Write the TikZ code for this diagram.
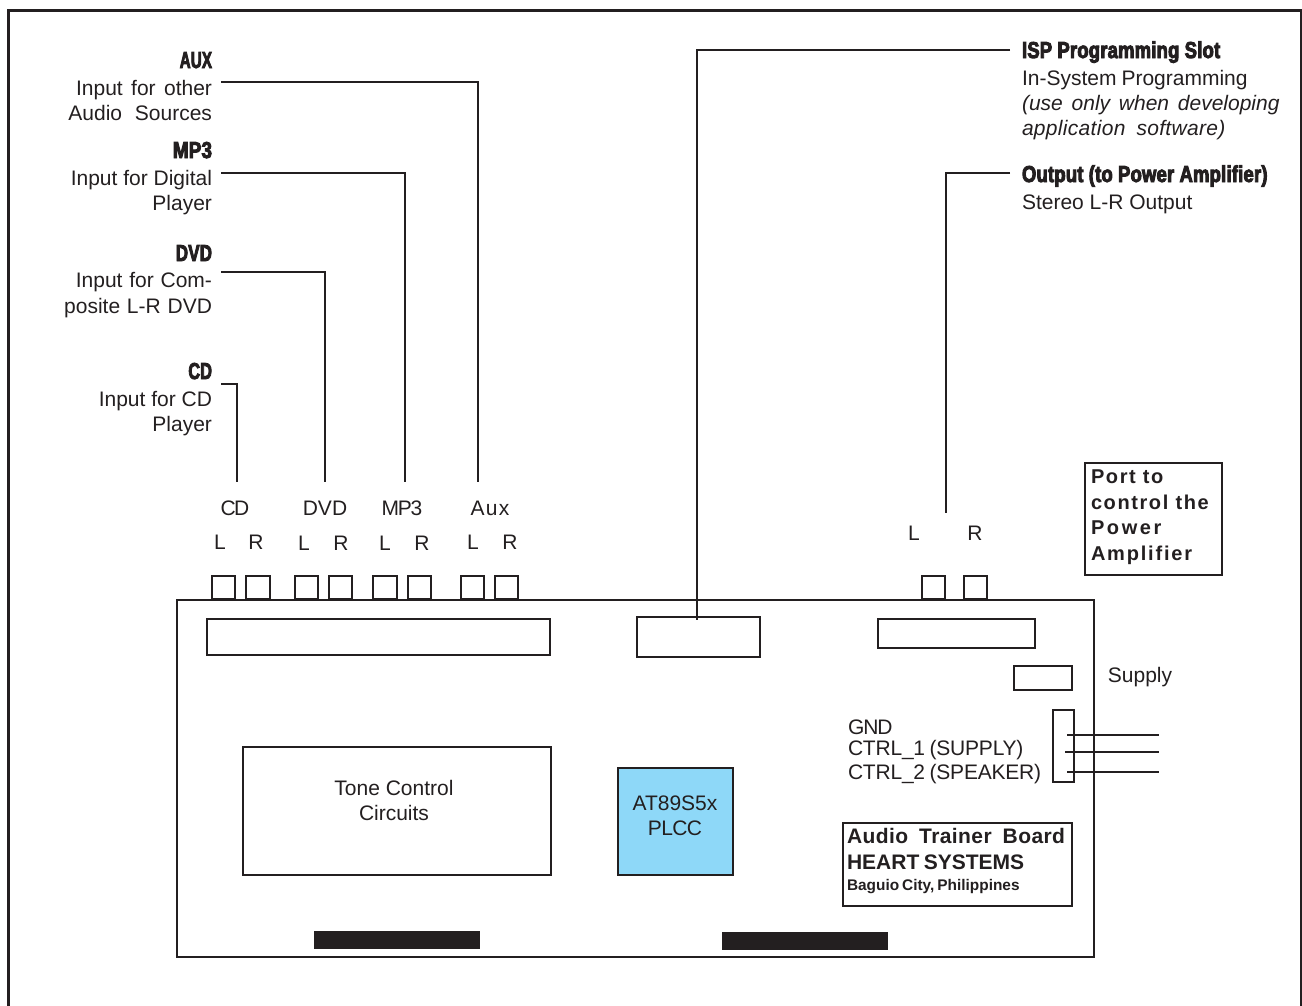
\documentclass[tikz,border=0pt]{standalone}
\usepackage{fontspec}
\setmainfont{Liberation Sans}
\newfontfamily\hfont[UprightFont={* Bold},FakeStretch=0.8,FakeBold=4,LetterSpace=1]{Liberation Sans}
\definecolor{ink}{HTML}{231F20}
\definecolor{chip}{HTML}{8ED8F8}
\newcommand{\hd}[2][1]{\scalebox{#1}[1]{\hfont\fontsize{23}{26}\selectfont #2}}
\newcommand{\ws}[1]{\spaceskip=#1pt\relax}
\tikzset{
  x=1pt,y=-1pt,
  every node/.style={text=ink,inner sep=0pt,outer sep=0pt},
  box/.style={draw=ink,line width=2.8pt,fill=white},
  thinbox/.style={draw=ink,line width=1.1pt,fill=white},
  wire/.style={draw=ink,line width=2.7pt},
  txt/.style={font=\fontsize{21}{25}\selectfont},
  lab/.style={txt,anchor=base},
  notetxt/.style={anchor=base west,font=\fontsize{20}{25}\selectfont\bfseries}
}
\begin{document}
\begin{tikzpicture}
\useasboundingbox (0,0) rectangle (1302,1005);
\draw[draw=ink,line width=3pt] (8.5,1006) -- (8.5,10) -- (1301,10) -- (1301,1006);
% board
\node[box,line width=2.4pt,minimum width=917pt,minimum height=357pt,anchor=north west] (board) at (177,600) {};
% jacks
\foreach \n/\a/\b in {j1/212/235,j2/246/270,j3/295/318,j4/329/352,j5/373/397,j6/408/431,j7/461/484,j8/495/518,j9/922/945,j10/964/987}{
  \node[box,anchor=south west,minimum width=\b-\a,minimum height=23pt] (\n) at (\a,599) {};
}
\node[box,anchor=north west,minimum width=343pt,minimum height=36pt] (conA) at (207,619) {};
\node[box,anchor=north west,minimum width=123pt,minimum height=40pt] (conB) at (637,617) {};
\node[box,anchor=north west,minimum width=157pt,minimum height=29pt] (conC) at (878,619) {};
\node[box,anchor=north west,minimum width=58pt,minimum height=24pt] (supply) at (1014,666) {};
\node[box,anchor=north west,minimum width=21pt,minimum height=72pt] (port) at (1053,710) {};
\node[box,anchor=north west,minimum width=308pt,minimum height=128pt] (tone) at (243,747) {};
\node[txt,align=center] (tonet) at (394,800) {Tone Control\\Circuits};
\node[box,fill=chip,anchor=north west,minimum width=115pt,minimum height=107pt] (mcu) at (618,768) {};
\node[txt,align=center] (mcut) at (675,816) {AT89S5x\\{\addfontfeature{LetterSpace=-3}PLCC}};
\node[fill=ink,anchor=north west,minimum width=166pt,minimum height=18pt] (bar1) at (314,931) {};
\node[fill=ink,anchor=north west,minimum width=166pt,minimum height=18pt] (bar2) at (722,932) {};
% info box
\node[thinbox,anchor=north west,minimum width=229pt,minimum height=83pt] (info) at (843,823) {};
\node[anchor=base west,font=\fontsize{21}{25}\selectfont\bfseries\addfontfeature{LetterSpace=2}\ws{11}] (i1) at (847,843) {Audio Trainer Board};
\node[anchor=base west,font=\fontsize{21}{25}\selectfont\bfseries\ws{4.5}] (i2) at (847,869) {HEART SYSTEMS};
\node[anchor=base west,font=\fontsize{15.4}{18}\selectfont\bfseries\ws{3}] (i3) at (847,890) {Baguio City, Philippines};
% port note
\node[box,anchor=north west,minimum width=137pt,minimum height=112pt] (note) at (1085,463) {};
\node[notetxt,font=\fontsize{20}{25}\selectfont\bfseries\addfontfeature{LetterSpace=8}] (n1) at (1091,483) {Port to};
\node[notetxt,font=\fontsize{20}{25}\selectfont\bfseries\addfontfeature{LetterSpace=8}] (n2) at (1091,509) {control the};
\node[notetxt,font=\fontsize{20}{25}\selectfont\bfseries\addfontfeature{LetterSpace=13}] (n3) at (1091,534) {Power};
\node[notetxt,font=\fontsize{20}{25}\selectfont\bfseries\addfontfeature{LetterSpace=9}] (n4) at (1091,560) {Amplifier};
% jack labels
\node[lab] (cd) at (235,515) {\addfontfeature{LetterSpace=-8}CD};
\node[lab] (dvd) at (325,515) {DVD};
\node[lab] (mp3) at (402,515) {\addfontfeature{LetterSpace=-6}MP3};
\node[lab] (aux) at (490,515) {\addfontfeature{LetterSpace=6}Aux};
\foreach \n/\x/\y/\s in {l1/220/549/L,r1/256/549/R,l2/304/550/L,r2/341/550/R,l3/385/550/L,r3/422/550/R,l4/473/549/L,r4/510/549/R,l5/914/540/L,r5/975/540/R}{
  \node[lab] (\n) at (\x,\y) {\s};
}
% left descriptions
\node[anchor=base east] (auxh) at (212,68) {\hd[.82]{AUX}};
\node[txt,anchor=base east] (aux1) at (212,95) {\ws{8.4}Input for other};
\node[txt,anchor=base east] (aux2) at (212,120) {\ws{12.8}Audio Sources};
\node[anchor=base east] (mp3h) at (212,158) {\hd[1.02]{MP3}};
\node[txt,anchor=base east] (mp31) at (212,185) {Input for Digital};
\node[txt,anchor=base east] (mp32) at (212,210) {Player};
\node[anchor=base east] (dvdh) at (212,261) {\hd[.92]{DVD}};
\node[txt,anchor=base east] (dvd1) at (212,287) {\ws{6.8}Input for Com-};
\node[txt,anchor=base east] (dvd2) at (212,313) {\ws{6.8}posite L-R DVD};
\node[anchor=base east] (cdh) at (212,379) {\hd[.88]{CD}};
\node[txt,anchor=base east] (cd1) at (212,406) {Input for CD};
\node[txt,anchor=base east] (cd2) at (212,431) {Player};
% right descriptions
\node[anchor=base west] (isph) at (1022,58) {\hd{ISP Programming Slot}};
\node[txt,anchor=base west] (isp1) at (1022,85) {\ws{5}In-System Programming};
\node[anchor=base west,font=\fontsize{21}{25}\selectfont\itshape\ws{8.8}] (isp2) at (1022,110) {(use only when developing};
\node[anchor=base west,font=\fontsize{21}{25}\selectfont\itshape\addfontfeature{LetterSpace=1.5}\ws{11}] (isp3) at (1022,135) {application software)};
\node[anchor=base west] (outh) at (1022,182) {\hd{Output (to Power Amplifier)}};
\node[txt,anchor=base west] (out1) at (1022,209) {Stereo L-R Output};
% port labels
\node[lab] (sup) at (1140,682) {Supply};
\node[txt,anchor=base west] (gnd) at (848,734) {\addfontfeature{LetterSpace=-5}GND};
\node[txt,anchor=base west] (c1) at (848,755) {\addfontfeature{LetterSpace=-1}\ws{4.5}CTRL\_1 (SUPPLY)};
\node[txt,anchor=base west] (c2) at (848,779) {\addfontfeature{LetterSpace=-1}\ws{4.5}CTRL\_2 (SPEAKER)};
% connectors
\coordinate (a1) at (221,82); \coordinate (a2) at (478,82); \coordinate (a3) at (478,482);
\draw[wire] (a1) -- (a2) -- (a3);
\coordinate (b1) at (221,173); \coordinate (b2) at (405,173); \coordinate (b3) at (405,482);
\draw[wire] (b1) -- (b2) -- (b3);
\coordinate (c1a) at (221,272); \coordinate (c2a) at (325,272); \coordinate (c3a) at (325,482);
\draw[wire] (c1a) -- (c2a) -- (c3a);
\coordinate (d1) at (221,384); \coordinate (d2) at (237,384); \coordinate (d3) at (237,482);
\draw[wire] (d1) -- (d2) -- (d3);
\coordinate (e1) at (1010,50); \coordinate (e2) at (697,50); \coordinate (e3) at (697,620);
\draw[wire] (e1) -- (e2) -- (e3);
\coordinate (f1) at (1010,173); \coordinate (f2) at (946,173); \coordinate (f3) at (946,513);
\draw[wire] (f1) -- (f2) -- (f3);
\coordinate (g1) at (1067,735); \coordinate (g2) at (1159,735);
\coordinate (h1) at (1065,752); \coordinate (h2) at (1159,752);
\coordinate (k1) at (1067,772); \coordinate (k2) at (1159,772);
\draw[wire,line width=2.2pt] (g1) -- (g2);
\draw[wire,line width=2.2pt] (h1) -- (h2);
\draw[wire,line width=2.2pt] (k1) -- (k2);
\end{tikzpicture}
\end{document}
